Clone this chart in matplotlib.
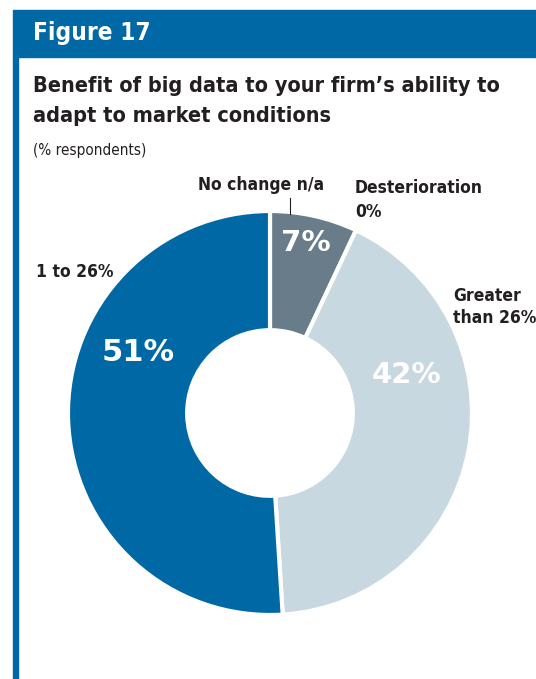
import matplotlib.pyplot as plt
from matplotlib.patches import Rectangle

# share of respondents, clockwise from 12 o'clock
categories = ['No change n/a', 'Greater\nthan 26%', '1 to 26%']
values = [7, 42, 51]
colors = ['#687d89', '#c8d8e1', '#0068a5']
value_labels = ['7%', '42%', '51%']

W, H = 536, 679
fig = plt.figure(figsize=(W / 100, H / 100), dpi=100)
fig.patch.set_facecolor('white')


def fx(x):
    return x / W


def fy(y):
    return 1 - y / H


blue = '#0068a5'
dark = '#231f20'

# header band and left rule
fig.patches.append(Rectangle((fx(13), fy(57)), 1, (57 - 10) / H,
                             transform=fig.transFigure, color=blue, zorder=0))
fig.patches.append(Rectangle((fx(13), 0), 5 / W, fy(57),
                             transform=fig.transFigure, color=blue, zorder=0))

fig.text(fx(33), fy(33), 'Figure 17', color='white', fontsize=17.5,
         fontweight='bold', va='center', ha='left', family='DejaVu Sans',
         fontstretch='condensed')
fig.text(fx(33), fy(86), "Benefit of big data to your firm’s ability to",
         color=dark, fontsize=15.6, fontweight='bold', va='center',
         family='DejaVu Sans', fontstretch='condensed')
fig.text(fx(33), fy(116), 'adapt to market conditions',
         color=dark, fontsize=15.6, fontweight='bold', va='center',
         family='DejaVu Sans', fontstretch='condensed')
fig.text(fx(33), fy(151), '(% respondents)', color=dark, fontsize=11,
         va='center', family='DejaVu Sans', fontstretch='condensed')

# donut
cx, cy, r = 270, 413, 202
ax = fig.add_axes([fx(cx - r), fy(cy + r), 2 * r / W, 2 * r / H])
ax.pie(values, colors=colors, startangle=90, counterclock=False,
       radius=1, wedgeprops=dict(width=0.59, edgecolor='white', linewidth=3))
ax.set_xlim(-1, 1)
ax.set_ylim(-1, 1)
ax.set_aspect('equal')
ax.axis('off')

pct_pos = [(0.175, 0.84), (0.675, 0.19), (-0.655, 0.30)]
pct_size = [21, 21, 22]
for (x, y), lab, s in zip(pct_pos, value_labels, pct_size):
    ax.text(x, y, lab, color='white', fontsize=s, fontweight='bold',
            ha='center', va='center', family='DejaVu Sans')

lab_kw = dict(color=dark, fontsize=12.5, fontweight='bold',
              family='DejaVu Sans', fontstretch='condensed')
fig.text(fx(198), fy(185), categories[0], va='center', ha='left', **lab_kw)
fig.add_artist(plt.Line2D([fx(290), fx(290)], [fy(198), fy(214)],
                          color=dark, lw=0.8, transform=fig.transFigure))
fig.text(fx(355), fy(188), 'Desterioration', va='center', ha='left', **lab_kw)
fig.text(fx(355), fy(212), '0%', va='center', ha='left', **lab_kw)
fig.text(fx(453), fy(307), categories[1], va='center', ha='left',
         linespacing=1.3, **lab_kw)
fig.text(fx(36), fy(272), categories[2], va='center', ha='left', **lab_kw)

fig.savefig('out.png', dpi=100)
